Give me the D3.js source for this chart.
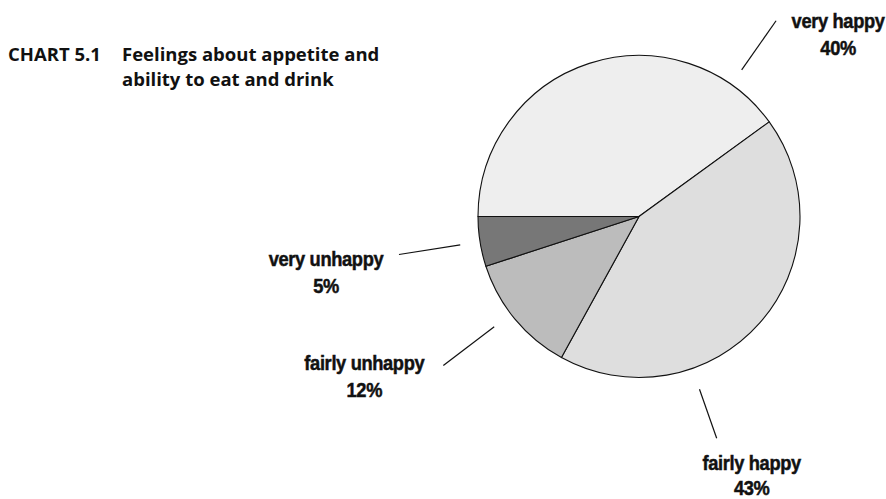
<!DOCTYPE html>
<html>
<head>
<meta charset="utf-8">
<script src="https://cdn.jsdelivr.net/npm/d3@7"></script>
<style>
  html, body { margin: 0; padding: 0; background: #ffffff; }
  svg { display: block; }
</style>
</head>
<body>
<svg id="chart" width="886" height="499"></svg>
<script>
// ---- data ----
const categories = ["very happy", "fairly happy", "fairly unhappy", "very unhappy"];
const values = [40, 43, 12, 5];
const valueLabels = ["40%", "43%", "12%", "5%"];
const colors = ["#eeeeee", "#dedede", "#bcbcbc", "#777777"];

const titleLabel = "CHART 5.1";
const titleLines = ["Feelings about appetite and", "ability to eat and drink"];

// ---- layout (not data) ----
const W = 886, H = 499;
const cx = 639, cy = 216.5, R = 161;
// leader-line angle (degrees, clockwise from 12 o'clock) and label offset from leader end
const leaderAngle = [35, 160.7, 232.7, 261];
const leaderR = [[179, 239], [183, 235], [182, 246], [181, 243]];
const labelOffset = [[62, 7], [35, 32], [-79, 4], [-73, 11]];
const labelLineGap = [27, 25, 27, 27];
const labelSquash = 0.87;

const svg = d3.select("#chart");

const pie = d3.pie().sort(null).value(d => d)
  .startAngle(1.5 * Math.PI).endAngle(3.5 * Math.PI);
const arcs = pie(values);
const arc = d3.arc().innerRadius(0).outerRadius(R);
const color = d3.scaleOrdinal().domain(categories).range(colors);

const g = svg.append("g").attr("transform", `translate(${cx},${cy})`);
g.selectAll("path.slice")
  .data(arcs)
  .join("path")
  .attr("class", "slice")
  .attr("d", arc)
  .attr("fill", (d, i) => color(categories[i]))
  .attr("stroke", "#111")
  .attr("stroke-width", 1.1)
  .attr("stroke-linejoin", "round");

const polar = (deg, r) => {
  const a = deg * Math.PI / 180;
  return [r * Math.sin(a), -r * Math.cos(a)];
};

// leader lines
g.selectAll("line.leader")
  .data(arcs)
  .join("line")
  .attr("class", "leader")
  .each(function (d, i) {
    const p0 = polar(leaderAngle[i], leaderR[i][0]);
    const p1 = polar(leaderAngle[i], leaderR[i][1]);
    d3.select(this)
      .attr("x1", p0[0]).attr("y1", p0[1])
      .attr("x2", p1[0]).attr("y2", p1[1]);
  })
  .attr("stroke", "#111")
  .attr("stroke-width", 1.2);

// labels
g.selectAll("g.lbl")
  .data(arcs)
  .join("g")
  .attr("class", "lbl")
  .attr("transform", (d, i) => {
    const p1 = polar(leaderAngle[i], leaderR[i][1]);
    return `translate(${p1[0] + labelOffset[i][0]},${p1[1] + labelOffset[i][1]}) scale(${labelSquash},1)`;
  })
  .each(function (d, i) {
    const t = d3.select(this).append("text")
      .attr("text-anchor", "middle")
      .style("font-family", "'Liberation Sans', Arial, sans-serif")
      .style("font-weight", "bold")
      .style("font-size", "21px")
      .style("letter-spacing", "-0.4px")
      .attr("fill", "#111")
      .attr("stroke", "#111")
      .attr("stroke-width", 0.5);
    t.append("tspan").attr("x", 0).attr("y", 0).text(categories[i]);
    t.append("tspan").attr("x", 0).attr("y", labelLineGap[i]).text(valueLabels[i]);
  });

// title
const title = svg.append("text")
  .style("font-family", "'Open Sans', 'Noto Sans', sans-serif")
  .style("font-weight", "700")
  .style("font-size", "18.5px")
  .attr("fill", "#111");
title.append("tspan").attr("x", 8).attr("y", 61).text(titleLabel);
title.append("tspan").attr("x", 122).attr("y", 61).text(titleLines[0]);
title.append("tspan").attr("x", 122).attr("y", 86).text(titleLines[1]);
</script>
</body>
</html>
